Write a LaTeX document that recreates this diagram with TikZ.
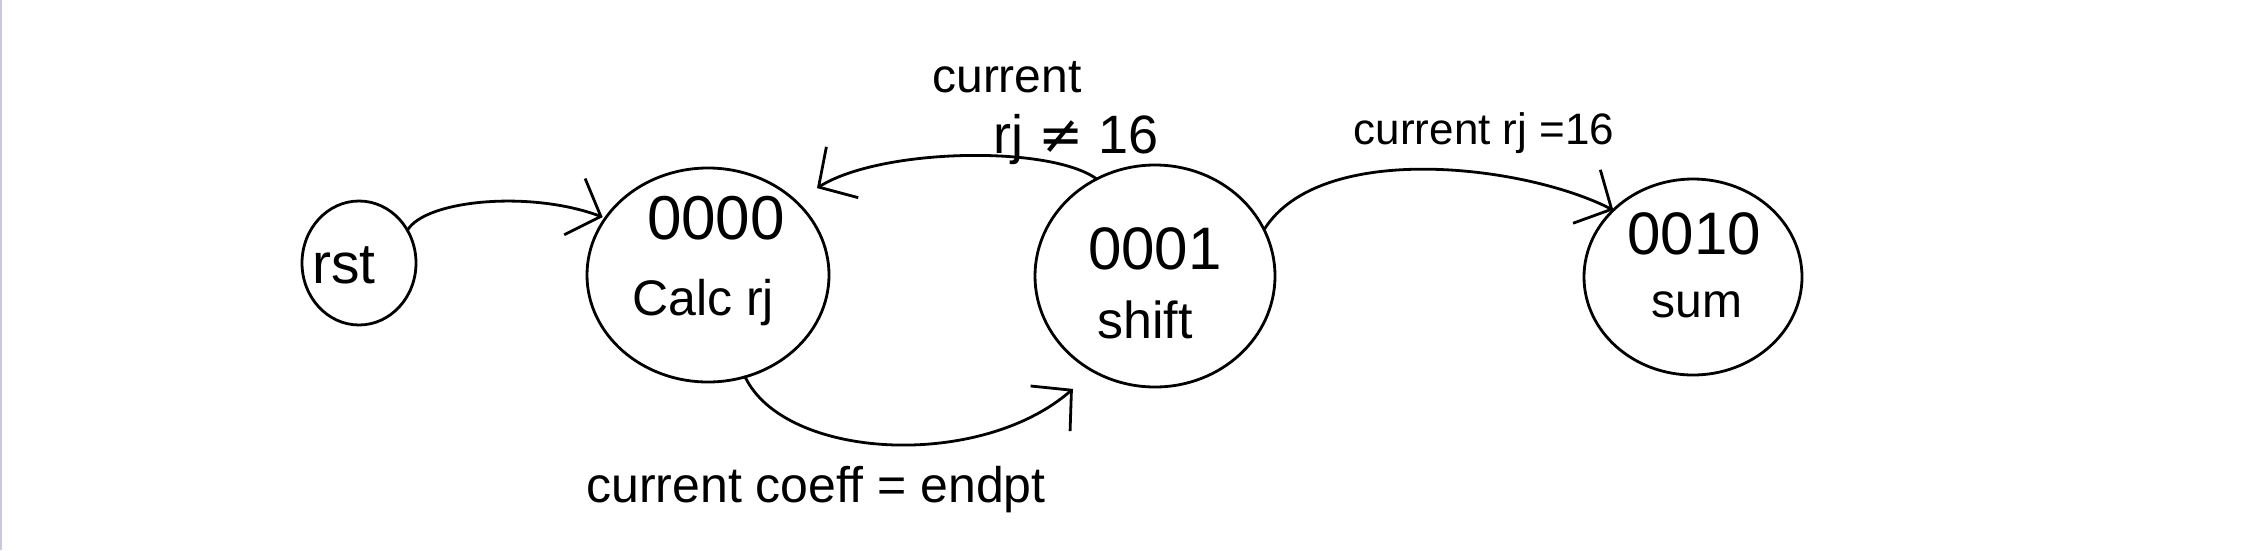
\documentclass[tikz,border=0pt]{standalone}
\usepackage{fontspec}
\setmainfont{Liberation Sans}
\newfontfamily\symfont{DejaVu Sans}
\usetikzlibrary{shapes.geometric,arrows.meta}
\newcommand\setfs[1]{\fontsize{#1}{#1}\selectfont}
\begin{document}
\begin{tikzpicture}[x=1pt,y=-1pt,
  state/.style={draw, ellipse, line width=2.8pt, inner sep=0pt, outer sep=0pt},
  lbl/.style={inner sep=0pt, anchor=center},
  edge/.style={draw, line width=2.8pt, line cap=round,
    -{Straight Barb[length=28pt,width=60pt,line width=2.8pt]}},
]
\fill[white] (0,0) rectangle (2248,550);
\useasboundingbox (0,0) rectangle (2248,550);
\fill[blue!20!gray!35] (0,0) rectangle (2,550);

% states
\node[state, minimum width=114pt, minimum height=124pt] (rst) at (359,263) {};
\node[state, minimum width=242pt, minimum height=214pt] (calc) at (708,275) {};
\node[state, minimum width=240pt, minimum height=222pt] (shift) at (1155,276) {};
\node[state, minimum width=218pt, minimum height=196pt] (sum) at (1693,277) {};

% state texts
\node[lbl, font=\setfs{57}] (trst) at (344,265) {rst};
\node[lbl, font=\setfs{62}] (tcalcA) at (716,218) {0000};
\node[lbl, font=\setfs{50}] (tcalcB) at (703,303) {Calc rj};
\node[lbl, font=\setfs{60}] (tshiftA) at (1155,249) {0001};
\node[lbl, font=\setfs{52}] (tshiftB) at (1145,320) {shift};
\node[lbl, font=\setfs{60}] (tsumA) at (1694,234) {0010};
\node[lbl, font=\setfs{48}] (tsumB) at (1697,305) {sum};

% edge labels
\node[lbl, font=\setfs{48}] (l1) at (1007,77) {current};
\node[lbl, font=\setfs{54}] (l2) at (1076,140) {rj {\symfont ≠} 16};
\node[lbl, font=\setfs{44}] (l3) at (1484,133) {current rj =16};
\node[lbl, font=\setfs{50}] (l4) at (816,490) {current coeff = endpt};

% edges
\draw[edge, shorten >=3pt] (rst.34) .. controls (425,200) and (530,190) .. (calc.151);
\draw[edge, shorten >=25pt] (shift.121) .. controls (1050,145) and (881,148) .. (calc.40);
\draw[edge, shorten >=27pt] (calc.-70) .. controls (785,460) and (980,470) .. (shift.-123);
\draw[edge] (shift.23) .. controls (1320,140) and (1525,165) .. (sum.140);
\end{tikzpicture}
\end{document}
